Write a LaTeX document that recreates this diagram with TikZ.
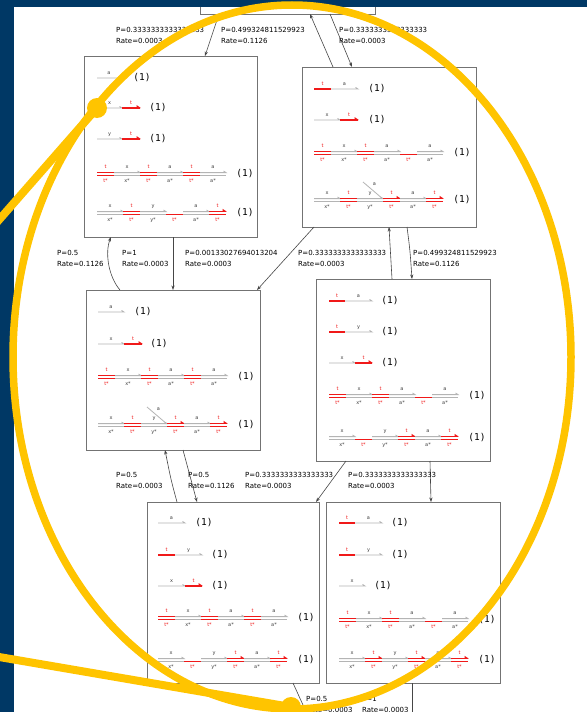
\documentclass[tikz,border=0pt]{standalone}
\usepackage{fontspec}
\newfontfamily\lblfont{DejaVu Sans}
\newfontfamily\onefnt{DejaVu Sans Mono}
\usetikzlibrary{arrows.meta}
\definecolor{navy}{RGB}{0,56,101}
\definecolor{gold}{RGB}{255,196,0}
\definecolor{strgray}{RGB}{180,180,180}
\definecolor{tred}{RGB}{240,25,25}
\definecolor{boxgray}{RGB}{115,115,115}
\definecolor{edgegray}{RGB}{70,70,70}
\tikzset{
 gstr/.style={strgray, line width=0.8pt},
 rstr/.style={tred, line width=1.7pt},
 slab/.style={font=\lblfont\fontsize{5}{5}\selectfont, text=black!75, inner sep=0pt},
 rlab/.style={slab, text=tred},
 onelab/.style={font=\onefnt\fontsize{9.5}{10}\selectfont, inner sep=0pt, text=black},
 elab/.style={font=\lblfont\fontsize{7}{11}\selectfont, align=left, anchor=west, inner sep=0pt, text=black},
 species/.style={draw=boxgray, line width=0.9pt, fill=white, inner sep=0pt},
 conn/.style={edgegray, line width=0.6pt},
 arr/.style={-{Stealth[length=4.5pt,width=3.2pt]}},
 yellowline/.style={gold, line width=8pt},
}
\newcounter{nn}
\newcommand\lbl[4]{\stepcounter{nn}\node[#1] (n\arabic{nn}) at (#2,#3) {#4};}
% single gray strand
\newcommand\sG[4]{\draw[gstr] (#1,#3) -- (#2,#3) -- ++(-2.5,-1.6);
 \pgfmathsetmacro\mx{(#1+#2)/2}\lbl{slab}{\mx}{#3-4.8}{#4}}
% single red strand
\newcommand\sR[4]{\draw[rstr] (#1,#3) -- (#2,#3);
 \pgfmathsetmacro\mx{(#1+#2)/2}\lbl{rlab}{\mx}{#3-5}{#4}}
\newcommand\sRa[4]{\sR{#1}{#2}{#3}{#4}\fill[tred] (#2+0.8,#3) -- (#2-3.5,#3-3) -- (#2-3.5,#3) -- cycle;}
% double gray
\newcommand\dG[5]{\draw[gstr] (#1,#3-1.4) -- (#2,#3-1.4) -- ++(-2.5,-1.6);
 \draw[gstr] (#1,#3+1.4) -- (#2,#3+1.4);
 \pgfmathsetmacro\mx{(#1+#2)/2}\lbl{slab}{\mx}{#3-6.8}{#4}\lbl{slab}{\mx}{#3+6.8}{#5}}
% double red
\newcommand\dR[3]{\draw[tred,line width=1.2pt] (#1,#3-1.4) -- (#2,#3-1.4) (#1,#3+1.4) -- (#2,#3+1.4);
 \pgfmathsetmacro\mx{(#1+#2)/2}\lbl{rlab}{\mx}{#3-6.8}{t}\lbl{rlab}{\mx}{#3+6.8}{t*}}
\newcommand\dRa[3]{\dR{#1}{#2}{#3}\fill[tred] (#2+0.8,#3-1.4) -- (#2-3.5,#3-4.2) -- (#2-3.5,#3-1.4) -- cycle;}
% bottom red only
\newcommand\bR[3]{\draw[tred,line width=1.4pt] (#1,#3+1.4) -- (#2,#3+1.4);
 \pgfmathsetmacro\mx{(#1+#2)/2}\lbl{rlab}{\mx}{#3+6.8}{t*}}
\newcommand\one[2]{\lbl{onelab}{#1}{#2}{(1)}}
\newcommand\branch[2]{\draw[gstr] (#1-20,#2-18) -- (#1-1,#2-1.8); \lbl{slab}{#1-8.5}{#2-15.5}{a}}
% rows
\newcommand\rowRsix[3]{\dR{#1}{#1+17}{#2}\dG{#1+17}{#1+43}{#2}{x}{x*}\dR{#1+43}{#1+60}{#2}\dG{#1+60}{#1+86}{#2}{a}{a*}#3{#1+86}{#1+103}{#2}\dG{#1+103}{#1+129}{#2}{a}{a*}\one{#1+148}{#2}}
\newcommand\rowGsix[5]{\dG{#1}{#1+26}{#2}{x}{x*}#3{#1+26}{#1+43}{#2}\dG{#1+43}{#1+69}{#2}{y}{y*}#4{#1+69}{#1+86}{#2}\dG{#1+86}{#1+112}{#2}{a}{a*}#5{#1+112}{#1+129}{#2}\one{#1+148}{#2}}

\begin{document}
\begin{tikzpicture}[x=1pt,y=-1pt]
\useasboundingbox (0,0) rectangle (587,712);
\clip (0,0) rectangle (587,712);
\fill[navy] (0,0) rectangle (587,712);
\begin{scope}
\clip (14,7) rectangle (587,712);
\fill[white] (14,7) rectangle (587,712);
% boxes
\node[species, minimum width=175pt, minimum height=60pt] (T) at (287.5,-16) {};
\node[species, minimum width=173pt, minimum height=181pt] (A) at (170.5,146.5) {};
\node[species, minimum width=174pt, minimum height=160pt] (B) at (389,147) {};
\node[species, minimum width=174pt, minimum height=160pt] (C) at (173,370) {};
\node[species, minimum width=174pt, minimum height=182pt] (D) at (403,370) {};
\node[species, minimum width=172pt, minimum height=181pt] (E) at (233,592.5) {};
\node[species, minimum width=174pt, minimum height=181pt] (F) at (413,592.5) {};
% box A
\sG{97}{121}{78}{a}\one{142}{78}
\sG{97}{122}{108}{x}\sRa{122}{140}{108}{t}\one{158}{108}
\sG{97}{122}{139}{y}\sRa{122}{140}{139}{t}\one{158}{139}
\rowRsix{97}{174}{\dR}
\rowGsix{97}{213}{\dR}{\bR}{\dRa}
% box B
\sR{314}{331}{89}{t}\sG{331}{358}{89}{a}\one{377}{89}
\sG{314}{340}{120}{x}\sRa{340}{358}{120}{t}\one{377}{120}
\rowRsix{314}{153}{\bR}
\rowGsix{314}{200}{\dR}{\dRa}{\dRa}\branch{383}{200}
% box C
\sG{98}{124}{312}{a}\one{143}{312}
\sG{98}{124}{344}{x}\sRa{124}{142}{344}{t}\one{159}{344}
\rowRsix{98}{377}{\dR}
\rowGsix{98}{425}{\dR}{\dRa}{\dRa}\branch{167}{425}
% box D
\sR{329}{345}{301}{t}\sG{345}{372}{301}{a}\one{390}{301}
\sR{329}{345}{332}{t}\sG{345}{372}{332}{y}\one{390}{332}
\sG{329}{355}{363}{x}\sRa{355}{372}{363}{t}\one{390}{363}
\rowRsix{329}{396}{\bR}
\rowGsix{329}{438}{\bR}{\dRa}{\dRa}
% box E
\sG{158}{185}{523}{a}\one{204}{523}
\sR{158}{175}{555}{t}\sG{175}{202}{555}{y}\one{220}{555}
\sG{158}{185}{586}{x}\sRa{185}{202}{586}{t}\one{220}{586}
\rowRsix{158}{618}{\dR}
\rowGsix{158}{660}{\bR}{\dRa}{\dRa}
% box F
\sR{339}{355}{523}{t}\sG{355}{382}{523}{a}\one{400}{523}
\sR{339}{355}{555}{t}\sG{355}{382}{555}{y}\one{400}{555}
\sG{339}{365}{586}{x}\one{383}{586}
\rowRsix{339}{620}{\bR}
\rowGsix{339}{660}{\dRa}{\dRa}{\dRa}
% connector end points
\coordinate (tA) at (219,14);  \coordinate (aT) at (205,56);
\coordinate (bT) at (333,67);  \coordinate (tB0) at (310,14);
\coordinate (tB) at (330,14);  \coordinate (bT2) at (352,67);
\coordinate (cA) at (120,290); \coordinate (aC) at (111,237);
\coordinate (aC2) at (173,237);\coordinate (cA2) at (173,290);
\coordinate (bC) at (314,227); \coordinate (cB) at (257,290);
\coordinate (dB) at (392,279); \coordinate (bD) at (389,227);
\coordinate (bD2) at (407,227);\coordinate (dB2) at (412,279);
\coordinate (eC) at (177,502); \coordinate (cE) at (165,450);
\coordinate (cE2) at (183,450);\coordinate (eC2) at (197,502);
\coordinate (dE) at (346,461); \coordinate (eD) at (316,502);
\coordinate (dF) at (430,461); \coordinate (fD) at (431,502);
\coordinate (eOut) at (293,683); \coordinate (eEnd) at (308,716);
\coordinate (fOut) at (412,683); \coordinate (fEnd) at (412,716);
% connectors
\draw[conn,arr] (tA) -- (aT);
\draw[conn,arr] (bT) -- (tB0);
\draw[conn,arr] (tB) -- (bT2);
\draw[conn,arr] (cA) .. controls (108,276) and (105,252) .. (aC);
\draw[conn,arr] (aC2) -- (cA2);
\draw[conn,arr] (bC) -- (cB);
\draw[conn,arr] (dB) -- (bD);
\draw[conn,arr] (bD2) .. controls (410,250) .. (dB2);
\draw[conn,arr] (eC) .. controls (171,480) .. (cE);
\draw[conn,arr] (cE2) -- (eC2);
\draw[conn,arr] (dE) -- (eD);
\draw[conn,arr] (dF) -- (fD);
\draw[conn] (eOut) -- (eEnd);
\draw[conn] (fOut) -- (fEnd);
% connector labels
\node[elab] (l1) at (116,35.5) {P=0.3333333333333333\\Rate=0.0003};
\node[elab] (l2) at (221,35.5) {P=0.499324811529923\\Rate=0.1126};
\node[elab] (l3) at (339,35.5) {P=0.3333333333333333\\Rate=0.0003};
\node[elab] (l4) at (57,258.5) {P=0.5\\Rate=0.1126};
\node[elab] (l5) at (122,258.5) {P=1\\Rate=0.0003};
\node[elab] (l6) at (185,258.5) {P=0.00133027694013204\\Rate=0.0003};
\node[elab] (l7) at (298,258.5) {P=0.3333333333333333\\Rate=0.0003};
\node[elab] (l8) at (413,258.5) {P=0.499324811529923\\Rate=0.1126};
\node[elab] (l9) at (116,480.5) {P=0.5\\Rate=0.0003};
\node[elab] (l10) at (188,480.5) {P=0.5\\Rate=0.1126};
\node[elab] (l11) at (245,480.5) {P=0.3333333333333333\\Rate=0.0003};
\node[elab] (l12) at (348,480.5) {P=0.3333333333333333\\Rate=0.0003};
\node[elab] (l13) at (306,704.5) {P=0.5\\Rate=0.0003};
\node[elab] (l14) at (362,704.5) {P=1\\Rate=0.0003};
\end{scope}
% yellow callout
\draw[gold, line width=7.5pt] (292,357) ellipse [x radius=279pt, y radius=352pt];
\draw[yellowline] (97,108) -- (-30,253);
\draw[yellowline] (-30,652) -- (291,707);
\fill[gold] (97,108) circle (10pt);
\fill[gold] (291,707) circle (10pt);
\end{tikzpicture}
\end{document}
